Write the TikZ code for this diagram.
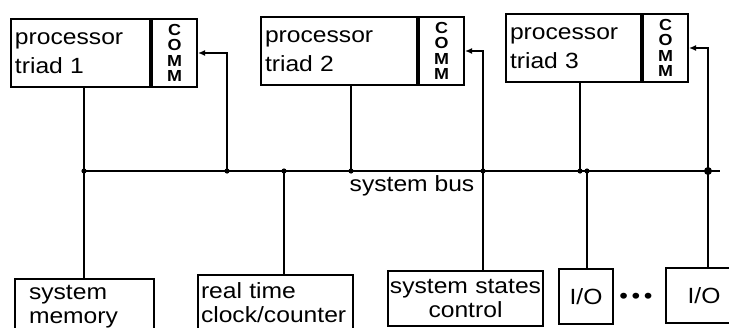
\documentclass[tikz,border=0pt]{standalone}
\usepackage{fontspec}
\setmainfont{Liberation Sans}[FakeStretch=1.12]
\usetikzlibrary{arrows.meta}
\begin{document}
\begin{tikzpicture}[x=0.5pt,y=-0.5pt,
  every node/.style={font=\fontsize{11}{14.5}\selectfont},
  triad/.style={draw,line width=1pt,anchor=north west,minimum height=34pt,inner xsep=2pt,align=left},
  comm/.style={draw,line width=1pt,anchor=north west,minimum height=34pt,minimum width=22.5pt,inner sep=0pt,align=center,font=\fontsize{8}{7.6}\selectfont\bfseries},
  dev/.style={draw,line width=1pt,anchor=north west,inner xsep=2pt,font=\fontsize{11}{12}\selectfont},
  wire/.style={line width=0.8pt},
  bus/.style={line width=1.4pt},
  arr/.style={-{Latex[length=3.5pt,width=3pt]}}]
\clip (0,0) rectangle (729,327);
% processor triads with their COMM units
\node[triad,text width=65.5pt] (triad1) at (10,18) {processor\\triad 1};
\node[comm] (comm1) at (triad1.north east) {C\\O\\M\\M};
\node[triad,text width=74pt] (triad2) at (260,16) {processor\\triad 2};
\node[comm] (comm2) at (triad2.north east) {C\\O\\M\\M};
\node[triad,text width=63.5pt] (triad3) at (505,13) {processor\\triad 3};
\node[comm] (comm3) at (triad3.north east) {C\\O\\M\\M};
% devices on the bus
\node[dev,inner xsep=7pt,text width=55.5pt,minimum height=27pt,align=left] (mem) at (14,278) {system\\memory};
\node[dev,inner xsep=1.5pt,text width=74.5pt,minimum height=28pt,align=left] (clock) at (197,274) {real time\\clock/counter};
\node[dev,inner xsep=0pt,text width=77.5pt,minimum height=27.5pt,align=center] (states) at (387,270) {system states\\control};
\node[dev,minimum width=27pt,minimum height=27.5pt] (io1) at (558,268) {I/O};
\node[dev,minimum width=38pt,minimum height=27.5pt] (io2) at (665,267) {I/O};
\node (dots) at (636,298) {\textbullet\,\textbullet\,\textbullet};
% bus junctions
\coordinate (j1) at (84,171);
\coordinate (j2) at (227,171);
\coordinate (j3) at (284,171);
\coordinate (j4) at (351,171);
\coordinate (j5) at (483,171);
\coordinate (j6) at (580,171);
\coordinate (j7) at (587,171);
\coordinate (j8) at (708,171);
\coordinate (buse) at (720,171);
\draw[bus] (j1) -- (buse);
\node (buslabel) at (412,186) {system bus};
\draw[wire] (j1 |- triad1.south) -- (j1) -- (j1 |- mem.north);
\draw[wire,arr] (j2) |- (comm1.east);
\draw[wire] (j3) -- (j3 |- clock.north);
\draw[wire] (j4 |- triad2.south) -- (j4);
\draw[wire,arr] (j5) |- (comm2.east);
\draw[wire] (j5) -- (j5 |- states.north);
\draw[wire] (j6 |- triad3.south) -- (j6);
\draw[wire] (j7) -- (j7 |- io1.north);
\draw[wire,arr] (j8) |- (comm3.east);
\draw[wire] (j8) -- (j8 |- io2.north);
\foreach \j in {1,...,7} \fill (j\j) circle (1.3pt);
\fill (j8) circle (2pt);
\end{tikzpicture}
\end{document}
